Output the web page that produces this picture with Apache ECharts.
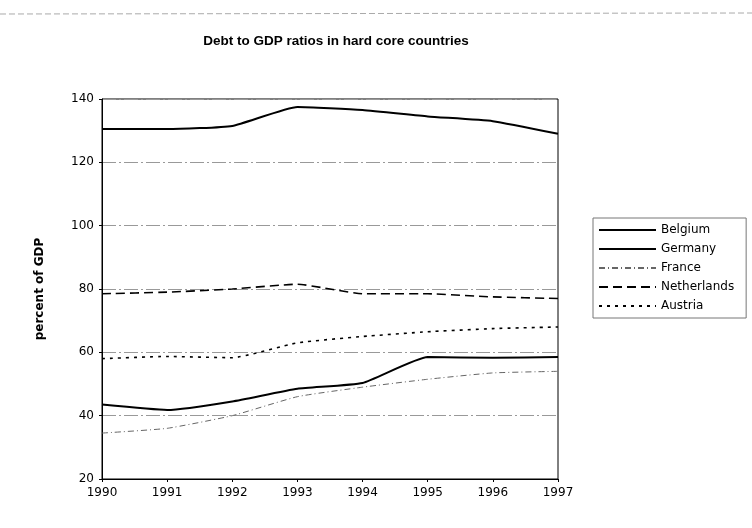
<!DOCTYPE html>
<html>
<head>
<meta charset="utf-8">
<script src="https://cdn.jsdelivr.net/npm/echarts@6/dist/echarts.min.js"></script>
<style>html,body{margin:0;padding:0;background:#fff}#c{width:752px;height:528px}</style>
</head>
<body>
<div id="c"></div>
<script>
var years = ['1990','1991','1992','1993','1994','1995','1996','1997'];
var belgium = [130.5, 130.5, 131.5, 137.5, 136.5, 134.5, 133, 129];
var germany = [43.5, 41.8, 44.5, 48.5, 50.3, 58.5, 58.3, 58.5];
var france = [34.5, 36, 40, 46, 49, 51.5, 53.5, 54];
var netherlands = [78.5, 79, 80, 81.5, 78.5, 78.5, 77.5, 77];
var austria = [58, 58.7, 58.3, 63, 65, 66.5, 67.5, 68];
var yTicks = [20, 40, 60, 80, 100, 120, 140];

var font = 'Liberation Sans, Arial, sans-serif';
var wfont = 'DejaVu Sans, sans-serif';
var chart = echarts.init(document.getElementById('c'), null, {renderer: 'canvas'});
function ser(name, data, color, width, type) {
  return {
    name: name, type: 'line', data: data, showSymbol: false, symbol: 'none',
    smooth: 0.15, animation: false,
    lineStyle: {color: color, width: width, type: type}
  };
}
chart.setOption({
  animation: false,
  backgroundColor: '#fff',
  title: {
    text: 'Debt to GDP ratios in hard core countries',
    left: 331, textAlign: 'center', top: 29,
    textStyle: {fontFamily: font, fontSize: 13.5, fontWeight: 'bold', color: '#000'}
  },
  grid: {left: 102, right: 194, top: 99, bottom: 49, show: true, borderColor: '#000', borderWidth: 1},
  legend: {
    orient: 'vertical', left: 593, top: 218,
    itemWidth: 57, itemHeight: 10, itemGap: 7,
    padding: [6, 12, 6, 5],
    borderColor: '#777', borderWidth: 1,
    itemStyle: {color: 'rgba(0,0,0,0)', borderWidth: 0, opacity: 0},
    textStyle: {fontFamily: wfont, fontSize: 12, color: '#000'},
    data: ['Belgium', 'Germany', 'France', 'Netherlands', 'Austria']
  },
  xAxis: {
    type: 'category', data: years, boundaryGap: false,
    axisLine: {lineStyle: {color: '#000', width: 1}},
    axisTick: {show: true, length: 3, lineStyle: {color: '#000'}},
    axisLabel: {fontFamily: wfont, fontSize: 12, color: '#000', margin: 8},
    splitLine: {show: false}
  },
  yAxis: {
    type: 'value', min: yTicks[0], max: yTicks[yTicks.length - 1], interval: 20,
    name: 'percent of GDP', nameLocation: 'middle', nameGap: 56, nameRotate: 90,
    nameTextStyle: {fontFamily: wfont, fontSize: 12, fontWeight: 'bold', color: '#000'},
    axisLine: {show: true, lineStyle: {color: '#000', width: 1}},
    axisTick: {show: true, length: 3, lineStyle: {color: '#000'}},
    axisLabel: {fontFamily: wfont, fontSize: 12, color: '#000', margin: 8},
    splitLine: {show: true, lineStyle: {color: '#999', width: 1, type: [14, 3, 2, 3]}}
  },
  graphic: [{
    type: 'line', shape: {x1: 0, y1: 14, x2: 752, y2: 13},
    style: {stroke: '#aaa', lineWidth: 1, lineDash: [6, 3]}
  }],
  series: [
    ser('Belgium', belgium, '#000', 2, 'solid'),
    ser('Germany', germany, '#000', 2, 'solid'),
    ser('France', france, '#666', 1, [6, 3, 1, 3]),
    ser('Netherlands', netherlands, '#000', 1.6, [9, 5]),
    ser('Austria', austria, '#000', 1.6, [3, 5])
  ]
});
</script>
</body>
</html>
